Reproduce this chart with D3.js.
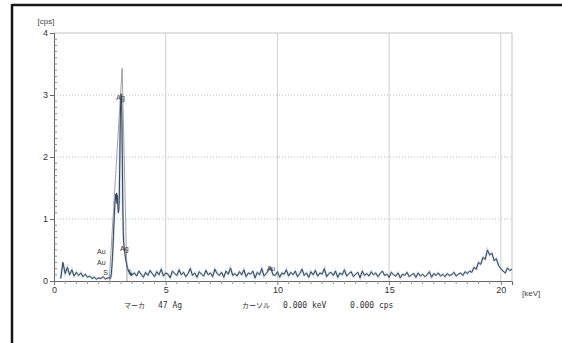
<!DOCTYPE html>
<html>
<head>
<meta charset="utf-8">
<script src="https://cdn.jsdelivr.net/npm/d3@7"></script>
<style>
  body { margin: 0; background: #fff; }
  svg { display: block; }
</style>
</head>
<body>
<div id="chart"></div>
<script>
// spectrum, low energy part: 0.3 .. 2.4 keV every 0.1 keV
const lowStart = 0.3, lowStep = 0.1;
const lowCps = [0.04, 0.30, 0.12, 0.22, 0.10, 0.18, 0.08, 0.14, 0.09, 0.13, 0.07,
  0.11, 0.06, 0.08, 0.04, 0.06, 0.03, 0.05, 0.04, 0.07, 0.03, 0.05];

// peak part: 2.50 .. 3.48 keV every 0.02 keV
const peakStart = 2.5, peakStep = 0.02;
const peakCps = [0.05, 0.04, 0.06, 0.10, 0.18, 0.28, 0.40, 0.55, 0.72, 0.90,
  1.05, 1.20, 1.32, 1.40, 1.30, 1.42, 1.25, 1.38, 1.20, 1.10,
  1.15, 1.30, 1.80, 2.40, 2.85, 3.02, 2.95, 2.60, 1.90, 1.20,
  0.80, 0.62, 0.55, 0.50, 0.42, 0.38, 0.33, 0.30, 0.26, 0.22,
  0.20, 0.17, 0.15, 0.18, 0.12, 0.14, 0.10, 0.13, 0.08, 0.12];

// high energy part: 3.5 .. 20.5 keV every 0.1 keV
const highStart = 3.5, highStep = 0.1;
const highCps = [
  0.10, 0.13, 0.08, 0.16, 0.11, 0.06, 0.14, 0.09, 0.17, 0.12,
  0.07, 0.15, 0.10, 0.19, 0.08, 0.13, 0.11, 0.05, 0.16, 0.12,
  0.09, 0.18, 0.10, 0.14, 0.07, 0.12, 0.20, 0.09, 0.13, 0.06,
  0.15, 0.11, 0.08, 0.17, 0.10, 0.13, 0.07, 0.19, 0.12, 0.09,
  0.14, 0.06, 0.16, 0.11, 0.21, 0.09, 0.12, 0.08, 0.15, 0.10,
  0.18, 0.07, 0.13, 0.11, 0.16, 0.05, 0.14, 0.10, 0.20, 0.08,
  0.12, 0.17, 0.22, 0.10, 0.09, 0.15, 0.06, 0.13, 0.11, 0.18,
  0.08, 0.14, 0.10, 0.16, 0.07, 0.12, 0.19, 0.09, 0.13, 0.06,
  0.15, 0.10, 0.17, 0.08, 0.13, 0.11, 0.20, 0.07, 0.12, 0.14,
  0.09, 0.16, 0.06, 0.13, 0.10, 0.18, 0.08, 0.12, 0.15, 0.07,
  0.11, 0.14, 0.05, 0.16, 0.09, 0.12, 0.08, 0.15, 0.10, 0.13,
  0.07, 0.12, 0.16, 0.09, 0.11, 0.06, 0.14, 0.10, 0.08, 0.13,
  0.05, 0.11, 0.09, 0.14, 0.07, 0.10, 0.12, 0.06, 0.13, 0.08,
  0.11, 0.07, 0.10, 0.15, 0.06, 0.12, 0.09, 0.13, 0.08, 0.11,
  0.07, 0.12, 0.09, 0.10, 0.14, 0.08, 0.11, 0.13, 0.09, 0.15,
  0.12, 0.16, 0.14, 0.22, 0.19, 0.30, 0.27, 0.38, 0.35, 0.50,
  0.42, 0.45, 0.33, 0.36, 0.25, 0.20, 0.16, 0.13, 0.21, 0.17,
  0.19];

// element markers: label, energy (keV), label height (cps)
const markerText = ['Au', 'Au', 'S', 'Ag', 'Ag', 'Au'];
const markerKeV = [2.12, 2.12, 2.31, 2.98, 3.15, 9.71];
const markerCps = [0.49, 0.31, 0.14, 2.97, 0.53, 0.21];

// gray fitted peak outline (keV, cps)
const fitKeV = [2.47, 3.05, 3.27];
const fitCps = [0, 3.43, 0];

const xTicks = [0, 5, 10, 15, 20];
const yTicks = [0, 1, 2, 3, 4];

const footer = [
  { text: 'マーカ', x: 124, jp: true },
  { text: '47 Ag', x: 158 },
  { text: 'カーソル', x: 242, jp: true },
  { text: '0.000 keV', x: 283 },
  { text: '0.000 cps', x: 350 }
];

const width = 562, height = 343;
const margin = { left: 54, right: 50, top: 33, bottom: 62 };

const svg = d3.select('#chart').append('svg')
  .attr('width', width)
  .attr('height', height);

// page frame
svg.append('line')
  .attr('x1', 12).attr('x2', width).attr('y1', 5).attr('y2', 5)
  .style('stroke', '#161616').style('stroke-width', 2.5);
svg.append('line')
  .attr('x1', 12).attr('x2', 12).attr('y1', 4).attr('y2', height)
  .style('stroke', '#161616').style('stroke-width', 2.5);

const x = d3.scaleLinear().domain([0, 20.5]).range([margin.left, width - margin.right]);
const y = d3.scaleLinear().domain([0, 4]).range([height - margin.bottom, margin.top]);

// build spectrum points
let spectrum = [];
lowCps.forEach((v, i) => spectrum.push([lowStart + i * lowStep, v]));
peakCps.forEach((v, i) => spectrum.push([peakStart + i * peakStep, v]));
highCps.forEach((v, i) => spectrum.push([highStart + i * highStep, v]));

// grid
svg.append('g')
  .selectAll('line')
  .data(yTicks.filter(d => d > 0 && d < 4))
  .enter().append('line')
  .attr('x1', x(0)).attr('x2', x(20.5))
  .attr('y1', d => y(d)).attr('y2', d => y(d))
  .style('stroke', '#b8b8b8')
  .style('stroke-dasharray', '1,2');

svg.append('g')
  .selectAll('line')
  .data(xTicks.filter(d => d > 0))
  .enter().append('line')
  .attr('x1', d => x(d)).attr('x2', d => x(d))
  .attr('y1', y(0)).attr('y2', y(4))
  .style('stroke', '#cfcfcf');

// plot box top / right
svg.append('path')
  .attr('d', 'M' + x(0) + ',' + y(4) + 'H' + x(20.5) + 'V' + y(0))
  .style('fill', 'none')
  .style('stroke', '#c4c4c4');

// y axis
const yAxis = svg.append('g')
  .attr('transform', 'translate(' + x(0) + ',0)')
  .call(d3.axisLeft(y).tickValues(yTicks).tickSize(4).tickPadding(2).tickFormat(d3.format('d')));
yAxis.select('.domain').style('stroke', '#666');
yAxis.selectAll('.tick line').style('stroke', '#666');
yAxis.selectAll('text')
  .style('font-family', 'Liberation Sans, Arial, sans-serif')
  .style('font-size', '9px')
  .style('fill', '#333');

// y minor ticks every 0.1
svg.append('g')
  .selectAll('line')
  .data(d3.range(1, 40).filter(d => d % 10 !== 0))
  .enter().append('line')
  .attr('x1', x(0)).attr('x2', x(0) + 3)
  .attr('y1', d => y(d / 10)).attr('y2', d => y(d / 10))
  .style('stroke', '#888');

// x axis
const xAxis = svg.append('g')
  .attr('transform', 'translate(0,' + y(0) + ')')
  .call(d3.axisBottom(x).tickValues(xTicks).tickSize(4).tickPadding(2).tickFormat(d3.format('d')));
xAxis.select('.domain').style('stroke', '#666');
xAxis.selectAll('.tick line').style('stroke', '#777');
xAxis.selectAll('text')
  .style('font-family', 'Liberation Sans, Arial, sans-serif')
  .style('font-size', '9px')
  .style('fill', '#333');

// x minor ticks every 0.5 keV
svg.append('g')
  .selectAll('line')
  .data(d3.range(1, 41).filter(d => d % 10 !== 0))
  .enter().append('line')
  .attr('x1', d => x(d / 2)).attr('x2', d => x(d / 2))
  .attr('y1', y(0)).attr('y2', y(0) + 3)
  .style('stroke', '#999');

// axis titles
svg.append('text')
  .text('[cps]')
  .attr('x', 46).attr('y', 24)
  .style('text-anchor', 'middle')
  .style('font-family', 'Liberation Sans, Arial, sans-serif')
  .style('font-size', '8px')
  .style('fill', '#444');
svg.append('text')
  .text('[keV]')
  .attr('x', 522).attr('y', 296)
  .style('font-family', 'Liberation Sans, Arial, sans-serif')
  .style('font-size', '8px')
  .style('fill', '#444');

// fitted peak outline
svg.append('path')
  .datum(fitKeV.map((k, i) => [k, fitCps[i]]))
  .attr('d', d3.line().x(d => x(d[0])).y(d => y(d[1])))
  .style('fill', 'none')
  .style('stroke', '#8a8a8a')
  .style('stroke-width', 0.8);

// spectrum
svg.append('path')
  .datum(spectrum)
  .attr('d', d3.line().x(d => x(d[0])).y(d => y(d[1])))
  .style('fill', 'none')
  .style('stroke', '#9db3c8')
  .style('stroke-width', 2.2)
  .style('opacity', 0.6);
svg.append('path')
  .datum(spectrum)
  .attr('d', d3.line().x(d => x(d[0])).y(d => y(d[1])))
  .style('fill', 'none')
  .style('stroke', '#2e465e')
  .style('stroke-width', 1);

// element labels
svg.append('g')
  .selectAll('text')
  .data(markerText)
  .enter().append('text')
  .text(d => d)
  .attr('x', (d, i) => x(markerKeV[i]))
  .attr('y', (d, i) => y(markerCps[i]) + 3)
  .style('text-anchor', 'middle')
  .style('font-family', 'Liberation Sans, Arial, sans-serif')
  .style('font-size', '7px')
  .style('fill', '#333');

// footer row
svg.append('g')
  .selectAll('text')
  .data(footer)
  .enter().append('text')
  .text(d => d.text)
  .attr('x', d => d.x)
  .attr('y', 308)
  .style('font-family', d => d.jp ? 'Noto Sans CJK JP, sans-serif' : 'DejaVu Sans Mono, monospace')
  .style('font-size', d => d.jp ? '7px' : '8px')
  .style('fill', '#333');
</script>
</body>
</html>
